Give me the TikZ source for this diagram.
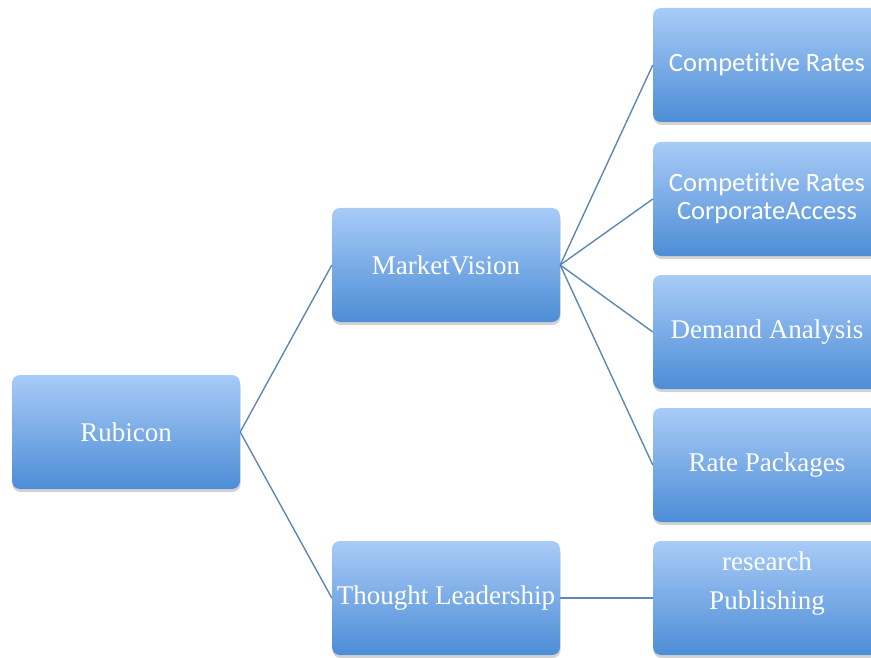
\documentclass[tikz,border=0pt]{standalone}
\usepackage{fontspec}
\setmainfont{Liberation Serif}
\newfontfamily\calfont[Ligatures=NoCommon]{Carlito}
\usetikzlibrary{shadows}
\definecolor{boxtop}{HTML}{A8CBF7}
\definecolor{boxbot}{HTML}{4D8DD6}
\definecolor{linkblue}{HTML}{5F87B4}
\tikzset{
  box/.style={rounded corners=8pt, minimum width=228pt, minimum height=114pt,
    inner sep=0pt, top color=boxtop, bottom color=boxbot, text=white,
    font=\fontsize{27}{39}\selectfont, align=center,
    drop shadow={shadow xshift=0.5pt, shadow yshift=-3pt, opacity=0.35}},
  sbox/.style={box, font=\calfont\fontsize{26.5}{28}\selectfont},
  link/.style={draw=linkblue, line width=1.4pt}
}
\begin{document}
\begin{tikzpicture}[x=1pt,y=-1pt]
\useasboundingbox (0,0) rectangle (871,658);
\clip (0,0) rectangle (871,658);
% first level
\node [box] (rubicon) at (126,432) {Rubicon};
\node [box] (mv) at (446,265) {MarketVision};
\node [box] (tl) at (446,598) {\raisebox{-3pt}{Thought Leadership}};
% right column
\node [sbox] (cr) at (767,65) {Competitive Rates};
\node [sbox] (cra) at (767,199) {Competitive Rates\\CorporateAccess};
\node [box] (da) at (767,332) {Demand Analysis};
\node [box] (rp) at (767,465) {Rate Packages};
\node [box] (rpub) at (767,598) {research\\Publishing\rule[-34pt]{0pt}{34pt}};
% connectors
\draw [link] (rubicon.east) -- (mv.west);
\draw [link] (rubicon.east) -- (tl.west);
\draw [link] (mv.east) -- (cr.west);
\draw [link] (mv.east) -- (cra.west);
\draw [link] (mv.east) -- (da.west);
\draw [link] (mv.east) -- (rp.west);
\draw [link] (tl.east) -- (rpub.west);
\end{tikzpicture}
\end{document}
